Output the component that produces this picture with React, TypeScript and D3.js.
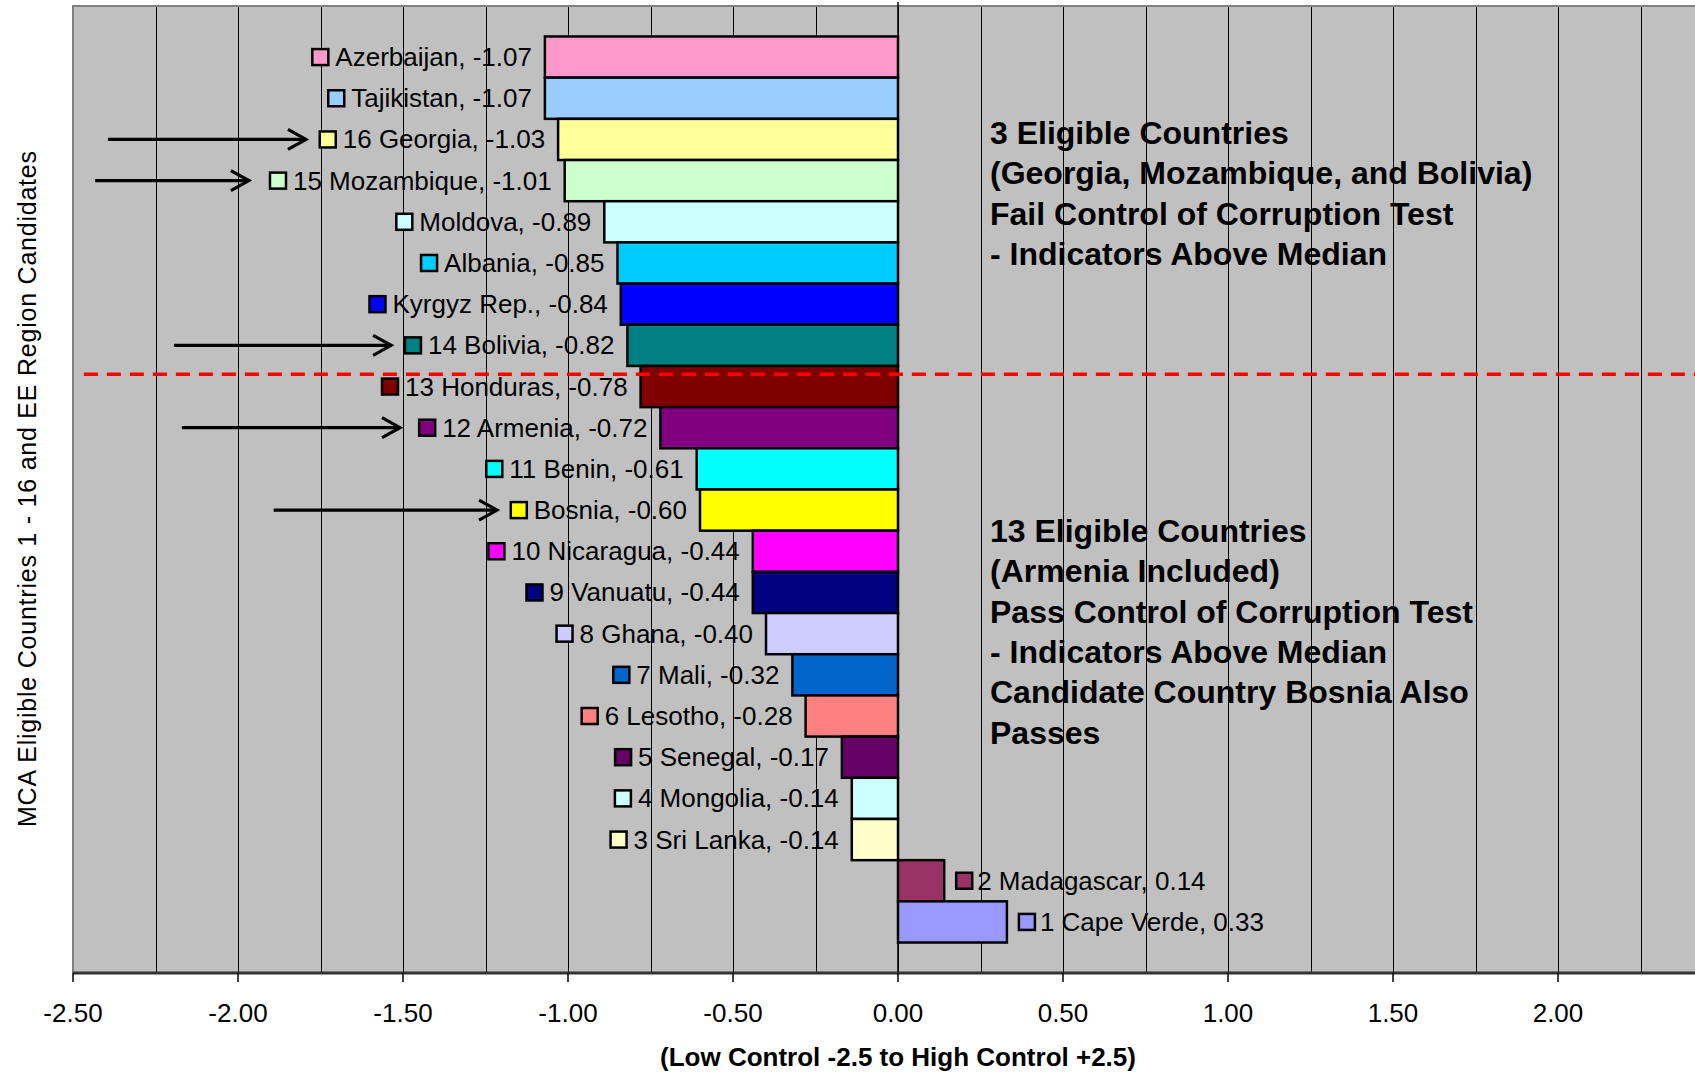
import React, { useEffect, useRef } from "react";
import * as d3 from "d3";

// country names (top to bottom) and control of corruption scores
const countries = [
  "Azerbaijan", "Tajikistan", "16 Georgia", "15 Mozambique", "Moldova", "Albania",
  "Kyrgyz Rep.", "14 Bolivia", "13 Honduras", "12 Armenia", "11 Benin", "Bosnia",
  "10 Nicaragua", "9 Vanuatu", "8 Ghana", "7 Mali", "6 Lesotho", "5 Senegal",
  "4 Mongolia", "3 Sri Lanka", "2 Madagascar", "1 Cape Verde",
];
const scores = [
  -1.07, -1.07, -1.03, -1.01, -0.89, -0.85, -0.84, -0.82, -0.78, -0.72, -0.61, -0.6,
  -0.44, -0.44, -0.4, -0.32, -0.28, -0.17, -0.14, -0.14, 0.14, 0.33,
];
const barColors = [
  "#FF99CC", "#99CCFF", "#FFFF99", "#CCFFCC", "#CCFFFF", "#00CCFF", "#0000FF", "#008080",
  "#800000", "#800080", "#00FFFF", "#FFFF00", "#FF00FF", "#000080", "#CCCCFF", "#0066CC",
  "#FF8080", "#660066", "#CCFFFF", "#FFFFCC", "#993366", "#9999FF",
];

// arrows pointing at the highlighted countries (x in score units)
const arrowTargets = ["16 Georgia", "15 Mozambique", "14 Bolivia", "12 Armenia", "Bosnia"];
const arrowFrom = [-2.394, -2.433, -2.194, -2.17, -1.892];
const arrowTo = [-1.794, -1.967, -1.536, -1.509, -1.215];

const failNote = [
  "3 Eligible Countries",
  "(Georgia, Mozambique, and Bolivia)",
  "Fail Control of Corruption Test",
  "- Indicators Above Median",
];
const passNote = [
  "13 Eligible Countries",
  "(Armenia Included)",
  "Pass Control of Corruption Test",
  "- Indicators Above Median",
  "Candidate Country Bosnia Also",
  "Passes",
];

const xTitle = "(Low Control -2.5 to High Control +2.5)";
const yTitle = "MCA Eligible Countries 1 - 16 and EE Region Candidates";
const font = "'Liberation Sans', Arial, sans-serif";

export default function App() {
  const ref = useRef<SVGSVGElement>(null);

  useEffect(() => {
    const W = 1695, H = 1074;
    const margin = { left: 73, top: 6, bottom: 973 };
    const svg = d3.select(ref.current);
    svg.selectAll("*").remove();

    const x = d3.scaleLinear().domain([-2.5, 2.5]).range([margin.left, 1723]);
    const y = d3.scaleBand().domain(countries).range([margin.top, margin.bottom])
      .paddingInner(0).paddingOuter(0.74);

    // plot area
    svg.append("rect")
      .attr("x", margin.left).attr("y", margin.top)
      .attr("width", x(2.5) - margin.left).attr("height", margin.bottom - margin.top)
      .attr("fill", "#C0C0C0");

    const ticks = x.ticks(10);
    const grid = ticks.flatMap(t => [t, t + 0.25]).filter(d => d > -2.5 && d < 2.5);
    svg.append("g").selectAll("line")
      .data(grid)
      .join("line")
      .attr("x1", d => Math.round(x(d)) + 0.5).attr("x2", d => Math.round(x(d)) + 0.5)
      .attr("y1", margin.top).attr("y2", margin.bottom)
      .attr("stroke", "#000").attr("stroke-width", 1);

    svg.append("line")
      .attr("x1", margin.left).attr("x2", W).attr("y1", margin.top).attr("y2", margin.top)
      .attr("stroke", "#808080").attr("stroke-width", 2);
    svg.append("line")
      .attr("x1", margin.left).attr("x2", margin.left).attr("y1", margin.top - 1).attr("y2", margin.bottom)
      .attr("stroke", "#808080").attr("stroke-width", 2);

    // bars
    svg.append("g").selectAll("rect")
      .data(countries)
      .join("rect")
      .attr("x", (d, i) => Math.min(x(0), x(scores[i])))
      .attr("y", d => y(d)!)
      .attr("width", (d, i) => Math.abs(x(scores[i]) - x(0)))
      .attr("height", y.bandwidth())
      .attr("fill", (d, i) => barColors[i])
      .attr("stroke", "#000").attr("stroke-width", 2.5);

    // category axis at zero
    svg.append("line")
      .attr("x1", x(0)).attr("x2", x(0)).attr("y1", margin.top - 4).attr("y2", margin.bottom)
      .attr("stroke", "#000").attr("stroke-width", 1.5);

    // value axis
    svg.append("line")
      .attr("x1", margin.left).attr("x2", W).attr("y1", margin.bottom).attr("y2", margin.bottom)
      .attr("stroke", "#333").attr("stroke-width", 3);
    svg.append("g").selectAll("line")
      .data(ticks)
      .join("line")
      .attr("x1", d => x(d)).attr("x2", d => x(d))
      .attr("y1", margin.bottom).attr("y2", margin.bottom + 9)
      .attr("stroke", "#000").attr("stroke-width", 1.5);
    svg.append("g").selectAll("text")
      .data(ticks.filter(d => d < 2.5))
      .join("text")
      .attr("x", d => x(d)).attr("y", 1013)
      .attr("text-anchor", "middle").attr("dominant-baseline", "central")
      .style("font", `26px ${font}`)
      .text(d => d.toFixed(2));

    svg.append("text")
      .attr("x", x(0)).attr("y", 1057)
      .attr("text-anchor", "middle").attr("dominant-baseline", "central")
      .style("font", `bold 26px ${font}`)
      .text(xTitle);

    svg.append("text")
      .attr("transform", `translate(27, 489) rotate(-90)`)
      .attr("text-anchor", "middle").attr("dominant-baseline", "central")
      .attr("textLength", 676).attr("lengthAdjust", "spacing")
      .style("font", `25px ${font}`)
      .text(yTitle);

    // median line
    svg.append("line")
      .attr("x1", x(-2.467)).attr("x2", W)
      .attr("y1", y("13 Honduras")! + y.bandwidth() * 0.2)
      .attr("y2", y("13 Honduras")! + y.bandwidth() * 0.2)
      .attr("stroke", "#FF0000").attr("stroke-width", 3.5)
      .attr("stroke-dasharray", "14 9");

    // data labels with legend keys
    const key = 16;
    const labels = svg.append("g");
    countries.forEach((c, i) => {
      const v = scores[i];
      const cy = y(c)! + y.bandwidth() / 2;
      const g = labels.append("g");
      const t = g.append("text")
        .attr("y", cy).attr("dominant-baseline", "central")
        .style("font", `26px ${font}`)
        .text(`${c}, ${v.toFixed(2)}`);
      const w = (t.node() as SVGTextElement).getComputedTextLength();
      let keyX: number;
      if (v < 0) {
        const end = x(v) - 13;
        t.attr("x", end).attr("text-anchor", "end");
        keyX = end - w - 7 - key;
      } else {
        keyX = x(v) + 12;
        t.attr("x", keyX + key + 5);
      }
      g.append("rect")
        .attr("x", keyX).attr("y", cy - key / 2)
        .attr("width", key).attr("height", key)
        .attr("fill", barColors[i])
        .attr("stroke", "#000").attr("stroke-width", 2.5);
    });

    // arrows
    const arrows = svg.append("g").attr("stroke", "#000").attr("stroke-width", 3.2).attr("fill", "none");
    arrowTargets.forEach((c, i) => {
      const cy = y(c)! + y.bandwidth() / 2;
      const x0 = x(arrowFrom[i]), x1 = x(arrowTo[i]);
      arrows.append("line").attr("x1", x0).attr("x2", x1 - 1).attr("y1", cy).attr("y2", cy);
      arrows.append("path")
        .attr("d", `M${x1 - 18},${cy - 10} L${x1},${cy} L${x1 - 18},${cy + 10}`);
    });

    // notes
    const note = (lines: string[], x0: number, y0: number) => {
      svg.append("g").selectAll("text")
        .data(lines)
        .join("text")
        .attr("x", x0).attr("y", (d, i) => y0 + i * 40.3)
        .attr("dominant-baseline", "central")
        .style("font", `bold 32px ${font}`)
        .text(d => d);
    };
    note(failNote, 990, 133);
    note(passNote, 990, 531);

    svg.attr("width", W).attr("height", H);
  }, []);

  return (
    <svg ref={ref} width={1695} height={1074}
      style={{ position: "absolute", left: 0, top: 0, background: "#fff" }} />
  );
}
